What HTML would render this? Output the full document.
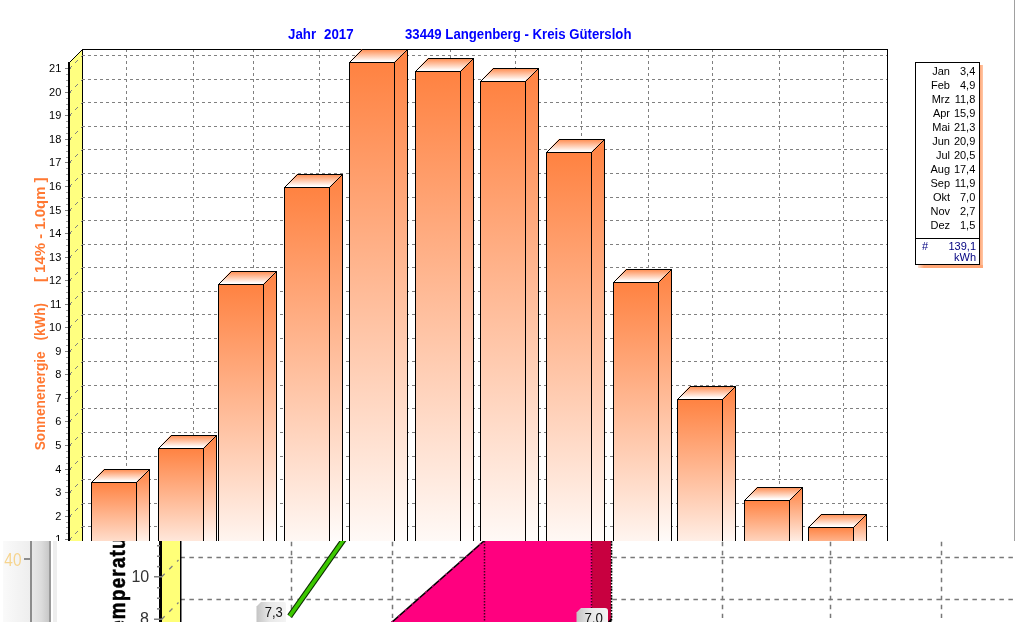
<!DOCTYPE html>
<html><head><meta charset="utf-8"><style>
html,body{margin:0;padding:0;background:#fff;}
body{width:1015px;height:622px;overflow:hidden;position:relative;font-family:"Liberation Sans",sans-serif;}
.t{position:absolute;white-space:pre;line-height:1;}
</style></head><body><div style="position:absolute;left:0;top:0;width:1015px;height:622px;will-change:transform">
<svg width="1015" height="622" viewBox="0 0 1015 622" style="position:absolute;left:0;top:0"><defs><linearGradient id="f0" gradientUnits="userSpaceOnUse" x1="0" y1="482" x2="0" y2="563"><stop offset="0" stop-color="#FF8241"/><stop offset="1" stop-color="#FFFFFF"/></linearGradient><linearGradient id="s0" gradientUnits="userSpaceOnUse" x1="0" y1="469" x2="0" y2="550"><stop offset="0" stop-color="#FF8241"/><stop offset="1" stop-color="#FFFFFF"/></linearGradient><linearGradient id="f1" gradientUnits="userSpaceOnUse" x1="0" y1="448" x2="0" y2="563"><stop offset="0" stop-color="#FF8241"/><stop offset="1" stop-color="#FFFFFF"/></linearGradient><linearGradient id="s1" gradientUnits="userSpaceOnUse" x1="0" y1="435" x2="0" y2="550"><stop offset="0" stop-color="#FF8241"/><stop offset="1" stop-color="#FFFFFF"/></linearGradient><linearGradient id="f2" gradientUnits="userSpaceOnUse" x1="0" y1="284" x2="0" y2="563"><stop offset="0" stop-color="#FF8241"/><stop offset="1" stop-color="#FFFFFF"/></linearGradient><linearGradient id="s2" gradientUnits="userSpaceOnUse" x1="0" y1="271" x2="0" y2="550"><stop offset="0" stop-color="#FF8241"/><stop offset="1" stop-color="#FFFFFF"/></linearGradient><linearGradient id="f3" gradientUnits="userSpaceOnUse" x1="0" y1="187" x2="0" y2="563"><stop offset="0" stop-color="#FF8241"/><stop offset="1" stop-color="#FFFFFF"/></linearGradient><linearGradient id="s3" gradientUnits="userSpaceOnUse" x1="0" y1="174" x2="0" y2="550"><stop offset="0" stop-color="#FF8241"/><stop offset="1" stop-color="#FFFFFF"/></linearGradient><linearGradient id="f4" gradientUnits="userSpaceOnUse" x1="0" y1="62" x2="0" y2="563"><stop offset="0" stop-color="#FF8241"/><stop offset="1" stop-color="#FFFFFF"/></linearGradient><linearGradient id="s4" gradientUnits="userSpaceOnUse" x1="0" y1="49" x2="0" y2="550"><stop offset="0" stop-color="#FF8241"/><stop offset="1" stop-color="#FFFFFF"/></linearGradient><linearGradient id="f5" gradientUnits="userSpaceOnUse" x1="0" y1="71" x2="0" y2="563"><stop offset="0" stop-color="#FF8241"/><stop offset="1" stop-color="#FFFFFF"/></linearGradient><linearGradient id="s5" gradientUnits="userSpaceOnUse" x1="0" y1="58" x2="0" y2="550"><stop offset="0" stop-color="#FF8241"/><stop offset="1" stop-color="#FFFFFF"/></linearGradient><linearGradient id="f6" gradientUnits="userSpaceOnUse" x1="0" y1="81" x2="0" y2="563"><stop offset="0" stop-color="#FF8241"/><stop offset="1" stop-color="#FFFFFF"/></linearGradient><linearGradient id="s6" gradientUnits="userSpaceOnUse" x1="0" y1="68" x2="0" y2="550"><stop offset="0" stop-color="#FF8241"/><stop offset="1" stop-color="#FFFFFF"/></linearGradient><linearGradient id="f7" gradientUnits="userSpaceOnUse" x1="0" y1="152" x2="0" y2="563"><stop offset="0" stop-color="#FF8241"/><stop offset="1" stop-color="#FFFFFF"/></linearGradient><linearGradient id="s7" gradientUnits="userSpaceOnUse" x1="0" y1="139" x2="0" y2="550"><stop offset="0" stop-color="#FF8241"/><stop offset="1" stop-color="#FFFFFF"/></linearGradient><linearGradient id="f8" gradientUnits="userSpaceOnUse" x1="0" y1="282" x2="0" y2="563"><stop offset="0" stop-color="#FF8241"/><stop offset="1" stop-color="#FFFFFF"/></linearGradient><linearGradient id="s8" gradientUnits="userSpaceOnUse" x1="0" y1="269" x2="0" y2="550"><stop offset="0" stop-color="#FF8241"/><stop offset="1" stop-color="#FFFFFF"/></linearGradient><linearGradient id="f9" gradientUnits="userSpaceOnUse" x1="0" y1="399" x2="0" y2="563"><stop offset="0" stop-color="#FF8241"/><stop offset="1" stop-color="#FFFFFF"/></linearGradient><linearGradient id="s9" gradientUnits="userSpaceOnUse" x1="0" y1="386" x2="0" y2="550"><stop offset="0" stop-color="#FF8241"/><stop offset="1" stop-color="#FFFFFF"/></linearGradient><linearGradient id="f10" gradientUnits="userSpaceOnUse" x1="0" y1="500" x2="0" y2="563"><stop offset="0" stop-color="#FF8241"/><stop offset="1" stop-color="#FFFFFF"/></linearGradient><linearGradient id="s10" gradientUnits="userSpaceOnUse" x1="0" y1="487" x2="0" y2="550"><stop offset="0" stop-color="#FF8241"/><stop offset="1" stop-color="#FFFFFF"/></linearGradient><linearGradient id="f11" gradientUnits="userSpaceOnUse" x1="0" y1="527" x2="0" y2="563"><stop offset="0" stop-color="#FF8241"/><stop offset="1" stop-color="#FFFFFF"/></linearGradient><linearGradient id="s11" gradientUnits="userSpaceOnUse" x1="0" y1="514" x2="0" y2="550"><stop offset="0" stop-color="#FF8241"/><stop offset="1" stop-color="#FFFFFF"/></linearGradient><linearGradient id="tp" x1="0" y1="0" x2="0" y2="1"><stop offset="0" stop-color="#FF884A"/><stop offset="0.93" stop-color="#FFFFFF"/><stop offset="1" stop-color="#FFFFFF"/></linearGradient></defs><line x1="126.5" y1="49" x2="126.5" y2="541" stroke="#808080" stroke-dasharray="3 3" shape-rendering="crispEdges"/><line x1="193.5" y1="49" x2="193.5" y2="541" stroke="#808080" stroke-dasharray="3 3" shape-rendering="crispEdges"/><line x1="253.5" y1="49" x2="253.5" y2="541" stroke="#808080" stroke-dasharray="3 3" shape-rendering="crispEdges"/><line x1="319.5" y1="49" x2="319.5" y2="541" stroke="#808080" stroke-dasharray="3 3" shape-rendering="crispEdges"/><line x1="384.5" y1="49" x2="384.5" y2="541" stroke="#808080" stroke-dasharray="3 3" shape-rendering="crispEdges"/><line x1="450.5" y1="49" x2="450.5" y2="541" stroke="#808080" stroke-dasharray="3 3" shape-rendering="crispEdges"/><line x1="515.5" y1="49" x2="515.5" y2="541" stroke="#808080" stroke-dasharray="3 3" shape-rendering="crispEdges"/><line x1="581.5" y1="49" x2="581.5" y2="541" stroke="#808080" stroke-dasharray="3 3" shape-rendering="crispEdges"/><line x1="648.5" y1="49" x2="648.5" y2="541" stroke="#808080" stroke-dasharray="3 3" shape-rendering="crispEdges"/><line x1="712.5" y1="49" x2="712.5" y2="541" stroke="#808080" stroke-dasharray="3 3" shape-rendering="crispEdges"/><line x1="779.5" y1="49" x2="779.5" y2="541" stroke="#808080" stroke-dasharray="3 3" shape-rendering="crispEdges"/><line x1="843.5" y1="49" x2="843.5" y2="541" stroke="#808080" stroke-dasharray="3 3" shape-rendering="crispEdges"/><line x1="82" y1="526.5" x2="887" y2="526.5" stroke="#808080" stroke-dasharray="3 3" shape-rendering="crispEdges"/><line x1="82" y1="503.5" x2="887" y2="503.5" stroke="#808080" stroke-dasharray="3 3" shape-rendering="crispEdges"/><line x1="82" y1="479.5" x2="887" y2="479.5" stroke="#808080" stroke-dasharray="3 3" shape-rendering="crispEdges"/><line x1="82" y1="456.5" x2="887" y2="456.5" stroke="#808080" stroke-dasharray="3 3" shape-rendering="crispEdges"/><line x1="82" y1="432.5" x2="887" y2="432.5" stroke="#808080" stroke-dasharray="3 3" shape-rendering="crispEdges"/><line x1="82" y1="408.5" x2="887" y2="408.5" stroke="#808080" stroke-dasharray="3 3" shape-rendering="crispEdges"/><line x1="82" y1="385.5" x2="887" y2="385.5" stroke="#808080" stroke-dasharray="3 3" shape-rendering="crispEdges"/><line x1="82" y1="361.5" x2="887" y2="361.5" stroke="#808080" stroke-dasharray="3 3" shape-rendering="crispEdges"/><line x1="82" y1="338.5" x2="887" y2="338.5" stroke="#808080" stroke-dasharray="3 3" shape-rendering="crispEdges"/><line x1="82" y1="314.5" x2="887" y2="314.5" stroke="#808080" stroke-dasharray="3 3" shape-rendering="crispEdges"/><line x1="82" y1="291.5" x2="887" y2="291.5" stroke="#808080" stroke-dasharray="3 3" shape-rendering="crispEdges"/><line x1="82" y1="267.5" x2="887" y2="267.5" stroke="#808080" stroke-dasharray="3 3" shape-rendering="crispEdges"/><line x1="82" y1="244.5" x2="887" y2="244.5" stroke="#808080" stroke-dasharray="3 3" shape-rendering="crispEdges"/><line x1="82" y1="220.5" x2="887" y2="220.5" stroke="#808080" stroke-dasharray="3 3" shape-rendering="crispEdges"/><line x1="82" y1="197.5" x2="887" y2="197.5" stroke="#808080" stroke-dasharray="3 3" shape-rendering="crispEdges"/><line x1="82" y1="173.5" x2="887" y2="173.5" stroke="#808080" stroke-dasharray="3 3" shape-rendering="crispEdges"/><line x1="82" y1="149.5" x2="887" y2="149.5" stroke="#808080" stroke-dasharray="3 3" shape-rendering="crispEdges"/><line x1="82" y1="126.5" x2="887" y2="126.5" stroke="#808080" stroke-dasharray="3 3" shape-rendering="crispEdges"/><line x1="82" y1="102.5" x2="887" y2="102.5" stroke="#808080" stroke-dasharray="3 3" shape-rendering="crispEdges"/><line x1="82" y1="79.5" x2="887" y2="79.5" stroke="#808080" stroke-dasharray="3 3" shape-rendering="crispEdges"/><line x1="82" y1="55.5" x2="887" y2="55.5" stroke="#808080" stroke-dasharray="3 3" shape-rendering="crispEdges"/><rect x="82" y="49" width="806" height="1" fill="#000"/><rect x="82" y="49" width="1" height="492" fill="#000"/><rect x="887" y="49" width="1" height="492" fill="#000"/><polygon points="70,62 82,50 82,541 70,541" fill="#FFFF80"/><line x1="69.5" y1="62.5" x2="82.5" y2="49.5" stroke="#000" shape-rendering="crispEdges"/><line x1="69.5" y1="539.5" x2="82.5" y2="526.5" stroke="#808080" stroke-dasharray="3.5 4.5" shape-rendering="crispEdges"/><line x1="69.5" y1="516.5" x2="82.5" y2="503.5" stroke="#808080" stroke-dasharray="3.5 4.5" shape-rendering="crispEdges"/><line x1="69.5" y1="492.5" x2="82.5" y2="479.5" stroke="#808080" stroke-dasharray="3.5 4.5" shape-rendering="crispEdges"/><line x1="69.5" y1="469.5" x2="82.5" y2="456.5" stroke="#808080" stroke-dasharray="3.5 4.5" shape-rendering="crispEdges"/><line x1="69.5" y1="445.5" x2="82.5" y2="432.5" stroke="#808080" stroke-dasharray="3.5 4.5" shape-rendering="crispEdges"/><line x1="69.5" y1="421.5" x2="82.5" y2="408.5" stroke="#808080" stroke-dasharray="3.5 4.5" shape-rendering="crispEdges"/><line x1="69.5" y1="398.5" x2="82.5" y2="385.5" stroke="#808080" stroke-dasharray="3.5 4.5" shape-rendering="crispEdges"/><line x1="69.5" y1="374.5" x2="82.5" y2="361.5" stroke="#808080" stroke-dasharray="3.5 4.5" shape-rendering="crispEdges"/><line x1="69.5" y1="351.5" x2="82.5" y2="338.5" stroke="#808080" stroke-dasharray="3.5 4.5" shape-rendering="crispEdges"/><line x1="69.5" y1="327.5" x2="82.5" y2="314.5" stroke="#808080" stroke-dasharray="3.5 4.5" shape-rendering="crispEdges"/><line x1="69.5" y1="304.5" x2="82.5" y2="291.5" stroke="#808080" stroke-dasharray="3.5 4.5" shape-rendering="crispEdges"/><line x1="69.5" y1="280.5" x2="82.5" y2="267.5" stroke="#808080" stroke-dasharray="3.5 4.5" shape-rendering="crispEdges"/><line x1="69.5" y1="257.5" x2="82.5" y2="244.5" stroke="#808080" stroke-dasharray="3.5 4.5" shape-rendering="crispEdges"/><line x1="69.5" y1="233.5" x2="82.5" y2="220.5" stroke="#808080" stroke-dasharray="3.5 4.5" shape-rendering="crispEdges"/><line x1="69.5" y1="210.5" x2="82.5" y2="197.5" stroke="#808080" stroke-dasharray="3.5 4.5" shape-rendering="crispEdges"/><line x1="69.5" y1="186.5" x2="82.5" y2="173.5" stroke="#808080" stroke-dasharray="3.5 4.5" shape-rendering="crispEdges"/><line x1="69.5" y1="162.5" x2="82.5" y2="149.5" stroke="#808080" stroke-dasharray="3.5 4.5" shape-rendering="crispEdges"/><line x1="69.5" y1="139.5" x2="82.5" y2="126.5" stroke="#808080" stroke-dasharray="3.5 4.5" shape-rendering="crispEdges"/><line x1="69.5" y1="115.5" x2="82.5" y2="102.5" stroke="#808080" stroke-dasharray="3.5 4.5" shape-rendering="crispEdges"/><line x1="69.5" y1="92.5" x2="82.5" y2="79.5" stroke="#808080" stroke-dasharray="3.5 4.5" shape-rendering="crispEdges"/><line x1="69.5" y1="68.5" x2="82.5" y2="55.5" stroke="#808080" stroke-dasharray="3.5 4.5" shape-rendering="crispEdges"/><rect x="65" y="539" width="6" height="1" fill="#808080"/><rect x="65" y="516" width="6" height="1" fill="#808080"/><rect x="66" y="522" width="2" height="1" fill="#A0A0A0"/><rect x="66" y="527" width="2" height="1" fill="#A0A0A0"/><rect x="66" y="533" width="2" height="1" fill="#A0A0A0"/><rect x="65" y="492" width="6" height="1" fill="#808080"/><rect x="66" y="498" width="2" height="1" fill="#A0A0A0"/><rect x="66" y="504" width="2" height="1" fill="#A0A0A0"/><rect x="66" y="510" width="2" height="1" fill="#A0A0A0"/><rect x="65" y="469" width="6" height="1" fill="#808080"/><rect x="66" y="474" width="2" height="1" fill="#A0A0A0"/><rect x="66" y="480" width="2" height="1" fill="#A0A0A0"/><rect x="66" y="486" width="2" height="1" fill="#A0A0A0"/><rect x="65" y="445" width="6" height="1" fill="#808080"/><rect x="66" y="451" width="2" height="1" fill="#A0A0A0"/><rect x="66" y="457" width="2" height="1" fill="#A0A0A0"/><rect x="66" y="463" width="2" height="1" fill="#A0A0A0"/><rect x="65" y="421" width="6" height="1" fill="#808080"/><rect x="66" y="427" width="2" height="1" fill="#A0A0A0"/><rect x="66" y="433" width="2" height="1" fill="#A0A0A0"/><rect x="66" y="439" width="2" height="1" fill="#A0A0A0"/><rect x="65" y="398" width="6" height="1" fill="#808080"/><rect x="66" y="404" width="2" height="1" fill="#A0A0A0"/><rect x="66" y="410" width="2" height="1" fill="#A0A0A0"/><rect x="66" y="416" width="2" height="1" fill="#A0A0A0"/><rect x="65" y="374" width="6" height="1" fill="#808080"/><rect x="66" y="380" width="2" height="1" fill="#A0A0A0"/><rect x="66" y="386" width="2" height="1" fill="#A0A0A0"/><rect x="66" y="392" width="2" height="1" fill="#A0A0A0"/><rect x="65" y="351" width="6" height="1" fill="#808080"/><rect x="66" y="357" width="2" height="1" fill="#A0A0A0"/><rect x="66" y="363" width="2" height="1" fill="#A0A0A0"/><rect x="66" y="369" width="2" height="1" fill="#A0A0A0"/><rect x="65" y="327" width="6" height="1" fill="#808080"/><rect x="66" y="333" width="2" height="1" fill="#A0A0A0"/><rect x="66" y="339" width="2" height="1" fill="#A0A0A0"/><rect x="66" y="345" width="2" height="1" fill="#A0A0A0"/><rect x="65" y="304" width="6" height="1" fill="#808080"/><rect x="66" y="310" width="2" height="1" fill="#A0A0A0"/><rect x="66" y="316" width="2" height="1" fill="#A0A0A0"/><rect x="66" y="321" width="2" height="1" fill="#A0A0A0"/><rect x="65" y="280" width="6" height="1" fill="#808080"/><rect x="66" y="286" width="2" height="1" fill="#A0A0A0"/><rect x="66" y="292" width="2" height="1" fill="#A0A0A0"/><rect x="66" y="298" width="2" height="1" fill="#A0A0A0"/><rect x="65" y="257" width="6" height="1" fill="#808080"/><rect x="66" y="263" width="2" height="1" fill="#A0A0A0"/><rect x="66" y="268" width="2" height="1" fill="#A0A0A0"/><rect x="66" y="274" width="2" height="1" fill="#A0A0A0"/><rect x="65" y="233" width="6" height="1" fill="#808080"/><rect x="66" y="239" width="2" height="1" fill="#A0A0A0"/><rect x="66" y="245" width="2" height="1" fill="#A0A0A0"/><rect x="66" y="251" width="2" height="1" fill="#A0A0A0"/><rect x="65" y="210" width="6" height="1" fill="#808080"/><rect x="66" y="215" width="2" height="1" fill="#A0A0A0"/><rect x="66" y="221" width="2" height="1" fill="#A0A0A0"/><rect x="66" y="227" width="2" height="1" fill="#A0A0A0"/><rect x="65" y="186" width="6" height="1" fill="#808080"/><rect x="66" y="192" width="2" height="1" fill="#A0A0A0"/><rect x="66" y="198" width="2" height="1" fill="#A0A0A0"/><rect x="66" y="204" width="2" height="1" fill="#A0A0A0"/><rect x="65" y="162" width="6" height="1" fill="#808080"/><rect x="66" y="168" width="2" height="1" fill="#A0A0A0"/><rect x="66" y="174" width="2" height="1" fill="#A0A0A0"/><rect x="66" y="180" width="2" height="1" fill="#A0A0A0"/><rect x="65" y="139" width="6" height="1" fill="#808080"/><rect x="66" y="145" width="2" height="1" fill="#A0A0A0"/><rect x="66" y="151" width="2" height="1" fill="#A0A0A0"/><rect x="66" y="157" width="2" height="1" fill="#A0A0A0"/><rect x="65" y="115" width="6" height="1" fill="#808080"/><rect x="66" y="121" width="2" height="1" fill="#A0A0A0"/><rect x="66" y="127" width="2" height="1" fill="#A0A0A0"/><rect x="66" y="133" width="2" height="1" fill="#A0A0A0"/><rect x="65" y="92" width="6" height="1" fill="#808080"/><rect x="66" y="98" width="2" height="1" fill="#A0A0A0"/><rect x="66" y="104" width="2" height="1" fill="#A0A0A0"/><rect x="66" y="109" width="2" height="1" fill="#A0A0A0"/><rect x="65" y="68" width="6" height="1" fill="#808080"/><rect x="66" y="74" width="2" height="1" fill="#A0A0A0"/><rect x="66" y="80" width="2" height="1" fill="#A0A0A0"/><rect x="66" y="86" width="2" height="1" fill="#A0A0A0"/><rect x="68" y="62" width="2" height="479" fill="#000"/><rect x="91" y="482" width="46" height="81" fill="url(#f0)"/><polygon points="136,482 149,469 149,550 136,563" fill="url(#s0)"/><polygon points="91,482 104,469 149,469 136,482" fill="url(#tp)"/><rect x="91" y="482" width="46" height="1" fill="#000"/><rect x="91" y="482" width="1" height="81" fill="#000"/><rect x="136" y="482" width="1" height="81" fill="#000"/><rect x="104" y="469" width="46" height="1" fill="#000"/><rect x="149" y="469" width="1" height="81" fill="#000"/><line x1="91.5" y1="482.5" x2="104.5" y2="469.5" stroke="#000" shape-rendering="crispEdges"/><line x1="136.5" y1="482.5" x2="149.5" y2="469.5" stroke="#000" shape-rendering="crispEdges"/><rect x="158" y="448" width="46" height="115" fill="url(#f1)"/><polygon points="203,448 216,435 216,550 203,563" fill="url(#s1)"/><polygon points="158,448 171,435 216,435 203,448" fill="url(#tp)"/><rect x="158" y="448" width="46" height="1" fill="#000"/><rect x="158" y="448" width="1" height="115" fill="#000"/><rect x="203" y="448" width="1" height="115" fill="#000"/><rect x="171" y="435" width="46" height="1" fill="#000"/><rect x="216" y="435" width="1" height="115" fill="#000"/><line x1="158.5" y1="448.5" x2="171.5" y2="435.5" stroke="#000" shape-rendering="crispEdges"/><line x1="203.5" y1="448.5" x2="216.5" y2="435.5" stroke="#000" shape-rendering="crispEdges"/><rect x="218" y="284" width="46" height="279" fill="url(#f2)"/><polygon points="263,284 276,271 276,550 263,563" fill="url(#s2)"/><polygon points="218,284 231,271 276,271 263,284" fill="url(#tp)"/><rect x="218" y="284" width="46" height="1" fill="#000"/><rect x="218" y="284" width="1" height="279" fill="#000"/><rect x="263" y="284" width="1" height="279" fill="#000"/><rect x="231" y="271" width="46" height="1" fill="#000"/><rect x="276" y="271" width="1" height="279" fill="#000"/><line x1="218.5" y1="284.5" x2="231.5" y2="271.5" stroke="#000" shape-rendering="crispEdges"/><line x1="263.5" y1="284.5" x2="276.5" y2="271.5" stroke="#000" shape-rendering="crispEdges"/><rect x="284" y="187" width="46" height="376" fill="url(#f3)"/><polygon points="329,187 342,174 342,550 329,563" fill="url(#s3)"/><polygon points="284,187 297,174 342,174 329,187" fill="url(#tp)"/><rect x="284" y="187" width="46" height="1" fill="#000"/><rect x="284" y="187" width="1" height="376" fill="#000"/><rect x="329" y="187" width="1" height="376" fill="#000"/><rect x="297" y="174" width="46" height="1" fill="#000"/><rect x="342" y="174" width="1" height="376" fill="#000"/><line x1="284.5" y1="187.5" x2="297.5" y2="174.5" stroke="#000" shape-rendering="crispEdges"/><line x1="329.5" y1="187.5" x2="342.5" y2="174.5" stroke="#000" shape-rendering="crispEdges"/><rect x="349" y="62" width="46" height="501" fill="url(#f4)"/><polygon points="394,62 407,49 407,550 394,563" fill="url(#s4)"/><polygon points="349,62 362,49 407,49 394,62" fill="url(#tp)"/><rect x="349" y="62" width="46" height="1" fill="#000"/><rect x="349" y="62" width="1" height="501" fill="#000"/><rect x="394" y="62" width="1" height="501" fill="#000"/><rect x="362" y="49" width="46" height="1" fill="#000"/><rect x="407" y="49" width="1" height="501" fill="#000"/><line x1="349.5" y1="62.5" x2="362.5" y2="49.5" stroke="#000" shape-rendering="crispEdges"/><line x1="394.5" y1="62.5" x2="407.5" y2="49.5" stroke="#000" shape-rendering="crispEdges"/><rect x="415" y="71" width="46" height="492" fill="url(#f5)"/><polygon points="460,71 473,58 473,550 460,563" fill="url(#s5)"/><polygon points="415,71 428,58 473,58 460,71" fill="url(#tp)"/><rect x="415" y="71" width="46" height="1" fill="#000"/><rect x="415" y="71" width="1" height="492" fill="#000"/><rect x="460" y="71" width="1" height="492" fill="#000"/><rect x="428" y="58" width="46" height="1" fill="#000"/><rect x="473" y="58" width="1" height="492" fill="#000"/><line x1="415.5" y1="71.5" x2="428.5" y2="58.5" stroke="#000" shape-rendering="crispEdges"/><line x1="460.5" y1="71.5" x2="473.5" y2="58.5" stroke="#000" shape-rendering="crispEdges"/><rect x="480" y="81" width="46" height="482" fill="url(#f6)"/><polygon points="525,81 538,68 538,550 525,563" fill="url(#s6)"/><polygon points="480,81 493,68 538,68 525,81" fill="url(#tp)"/><rect x="480" y="81" width="46" height="1" fill="#000"/><rect x="480" y="81" width="1" height="482" fill="#000"/><rect x="525" y="81" width="1" height="482" fill="#000"/><rect x="493" y="68" width="46" height="1" fill="#000"/><rect x="538" y="68" width="1" height="482" fill="#000"/><line x1="480.5" y1="81.5" x2="493.5" y2="68.5" stroke="#000" shape-rendering="crispEdges"/><line x1="525.5" y1="81.5" x2="538.5" y2="68.5" stroke="#000" shape-rendering="crispEdges"/><rect x="546" y="152" width="46" height="411" fill="url(#f7)"/><polygon points="591,152 604,139 604,550 591,563" fill="url(#s7)"/><polygon points="546,152 559,139 604,139 591,152" fill="url(#tp)"/><rect x="546" y="152" width="46" height="1" fill="#000"/><rect x="546" y="152" width="1" height="411" fill="#000"/><rect x="591" y="152" width="1" height="411" fill="#000"/><rect x="559" y="139" width="46" height="1" fill="#000"/><rect x="604" y="139" width="1" height="411" fill="#000"/><line x1="546.5" y1="152.5" x2="559.5" y2="139.5" stroke="#000" shape-rendering="crispEdges"/><line x1="591.5" y1="152.5" x2="604.5" y2="139.5" stroke="#000" shape-rendering="crispEdges"/><rect x="613" y="282" width="46" height="281" fill="url(#f8)"/><polygon points="658,282 671,269 671,550 658,563" fill="url(#s8)"/><polygon points="613,282 626,269 671,269 658,282" fill="url(#tp)"/><rect x="613" y="282" width="46" height="1" fill="#000"/><rect x="613" y="282" width="1" height="281" fill="#000"/><rect x="658" y="282" width="1" height="281" fill="#000"/><rect x="626" y="269" width="46" height="1" fill="#000"/><rect x="671" y="269" width="1" height="281" fill="#000"/><line x1="613.5" y1="282.5" x2="626.5" y2="269.5" stroke="#000" shape-rendering="crispEdges"/><line x1="658.5" y1="282.5" x2="671.5" y2="269.5" stroke="#000" shape-rendering="crispEdges"/><rect x="677" y="399" width="46" height="164" fill="url(#f9)"/><polygon points="722,399 735,386 735,550 722,563" fill="url(#s9)"/><polygon points="677,399 690,386 735,386 722,399" fill="url(#tp)"/><rect x="677" y="399" width="46" height="1" fill="#000"/><rect x="677" y="399" width="1" height="164" fill="#000"/><rect x="722" y="399" width="1" height="164" fill="#000"/><rect x="690" y="386" width="46" height="1" fill="#000"/><rect x="735" y="386" width="1" height="164" fill="#000"/><line x1="677.5" y1="399.5" x2="690.5" y2="386.5" stroke="#000" shape-rendering="crispEdges"/><line x1="722.5" y1="399.5" x2="735.5" y2="386.5" stroke="#000" shape-rendering="crispEdges"/><rect x="744" y="500" width="46" height="63" fill="url(#f10)"/><polygon points="789,500 802,487 802,550 789,563" fill="url(#s10)"/><polygon points="744,500 757,487 802,487 789,500" fill="url(#tp)"/><rect x="744" y="500" width="46" height="1" fill="#000"/><rect x="744" y="500" width="1" height="63" fill="#000"/><rect x="789" y="500" width="1" height="63" fill="#000"/><rect x="757" y="487" width="46" height="1" fill="#000"/><rect x="802" y="487" width="1" height="63" fill="#000"/><line x1="744.5" y1="500.5" x2="757.5" y2="487.5" stroke="#000" shape-rendering="crispEdges"/><line x1="789.5" y1="500.5" x2="802.5" y2="487.5" stroke="#000" shape-rendering="crispEdges"/><rect x="808" y="527" width="46" height="36" fill="url(#f11)"/><polygon points="853,527 866,514 866,550 853,563" fill="url(#s11)"/><polygon points="808,527 821,514 866,514 853,527" fill="url(#tp)"/><rect x="808" y="527" width="46" height="1" fill="#000"/><rect x="808" y="527" width="1" height="36" fill="#000"/><rect x="853" y="527" width="1" height="36" fill="#000"/><rect x="821" y="514" width="46" height="1" fill="#000"/><rect x="866" y="514" width="1" height="36" fill="#000"/><line x1="808.5" y1="527.5" x2="821.5" y2="514.5" stroke="#000" shape-rendering="crispEdges"/><line x1="853.5" y1="527.5" x2="866.5" y2="514.5" stroke="#000" shape-rendering="crispEdges"/><text x="61.3" y="543" text-anchor="end" font-family="Liberation Sans" font-size="11" fill="#000">1</text><text x="61.3" y="520" text-anchor="end" font-family="Liberation Sans" font-size="11" fill="#000">2</text><text x="61.3" y="496" text-anchor="end" font-family="Liberation Sans" font-size="11" fill="#000">3</text><text x="61.3" y="473" text-anchor="end" font-family="Liberation Sans" font-size="11" fill="#000">4</text><text x="61.3" y="449" text-anchor="end" font-family="Liberation Sans" font-size="11" fill="#000">5</text><text x="61.3" y="425" text-anchor="end" font-family="Liberation Sans" font-size="11" fill="#000">6</text><text x="61.3" y="402" text-anchor="end" font-family="Liberation Sans" font-size="11" fill="#000">7</text><text x="61.3" y="378" text-anchor="end" font-family="Liberation Sans" font-size="11" fill="#000">8</text><text x="61.3" y="355" text-anchor="end" font-family="Liberation Sans" font-size="11" fill="#000">9</text><text x="61.3" y="331" text-anchor="end" font-family="Liberation Sans" font-size="11" fill="#000">10</text><text x="61.3" y="308" text-anchor="end" font-family="Liberation Sans" font-size="11" fill="#000">11</text><text x="61.3" y="284" text-anchor="end" font-family="Liberation Sans" font-size="11" fill="#000">12</text><text x="61.3" y="261" text-anchor="end" font-family="Liberation Sans" font-size="11" fill="#000">13</text><text x="61.3" y="237" text-anchor="end" font-family="Liberation Sans" font-size="11" fill="#000">14</text><text x="61.3" y="214" text-anchor="end" font-family="Liberation Sans" font-size="11" fill="#000">15</text><text x="61.3" y="190" text-anchor="end" font-family="Liberation Sans" font-size="11" fill="#000">16</text><text x="61.3" y="166" text-anchor="end" font-family="Liberation Sans" font-size="11" fill="#000">17</text><text x="61.3" y="143" text-anchor="end" font-family="Liberation Sans" font-size="11" fill="#000">18</text><text x="61.3" y="119" text-anchor="end" font-family="Liberation Sans" font-size="11" fill="#000">19</text><text x="61.3" y="96" text-anchor="end" font-family="Liberation Sans" font-size="11" fill="#000">20</text><text x="61.3" y="72" text-anchor="end" font-family="Liberation Sans" font-size="11" fill="#000">21</text><svg x="0" y="541" width="1015" height="81" viewBox="0 541 1015 81" overflow="hidden"><rect x="0" y="541" width="1015" height="81" fill="#FFFFFF"/><linearGradient id="lg1" x1="0" y1="0" x2="1" y2="0"><stop offset="0" stop-color="#FAFAFA"/><stop offset="1" stop-color="#EEEEEE"/></linearGradient><linearGradient id="lg2" x1="0" y1="0" x2="1" y2="0"><stop offset="0" stop-color="#E8E8E8"/><stop offset="0.55" stop-color="#DCDCDC"/><stop offset="1" stop-color="#C8C8C8"/></linearGradient><rect x="3" y="541" width="27" height="81" fill="url(#lg1)"/><rect x="30" y="541" width="2" height="81" fill="#8C8C8C"/><rect x="32" y="541" width="17" height="81" fill="url(#lg2)"/><rect x="49" y="541" width="2" height="81" fill="#999999"/><rect x="53" y="541" width="4" height="81" fill="#EEEEEE"/><rect x="24" y="558" width="6" height="2" fill="#8C8C8C"/><text x="4.3" y="565.7" font-family="Liberation Sans" font-size="19" fill="#F6D48E" textLength="17.2" lengthAdjust="spacingAndGlyphs">40</text><line x1="291.5" y1="541.8" x2="291.5" y2="618" stroke="#787878" stroke-width="1.5" stroke-dasharray="4.5 4.5"/><line x1="392.5" y1="541.8" x2="392.5" y2="618" stroke="#787878" stroke-width="1.5" stroke-dasharray="4.5 4.5"/><line x1="503.5" y1="541.8" x2="503.5" y2="618" stroke="#787878" stroke-width="1.5" stroke-dasharray="4.5 4.5"/><line x1="611.5" y1="541.8" x2="611.5" y2="618" stroke="#787878" stroke-width="1.5" stroke-dasharray="4.5 4.5"/><line x1="722.5" y1="541.8" x2="722.5" y2="618" stroke="#787878" stroke-width="1.5" stroke-dasharray="4.5 4.5"/><line x1="830.5" y1="541.8" x2="830.5" y2="618" stroke="#787878" stroke-width="1.5" stroke-dasharray="4.5 4.5"/><line x1="941.5" y1="541.8" x2="941.5" y2="618" stroke="#787878" stroke-width="1.5" stroke-dasharray="4.5 4.5"/><line x1="180.4" y1="557.5" x2="1015" y2="557.5" stroke="#787878" stroke-width="1.5" stroke-dasharray="4.5 4.5"/><line x1="180.4" y1="599.5" x2="1015" y2="599.5" stroke="#787878" stroke-width="1.5" stroke-dasharray="4.5 4.5"/><rect x="162" y="541" width="18" height="81" fill="#FFFF78"/><rect x="159" y="541" width="3" height="81" fill="#000"/><rect x="180" y="541" width="1.5" height="81" fill="#000"/><line x1="161.5" y1="577.0" x2="178.5" y2="560.0" stroke="#808080" stroke-width="1.3" stroke-dasharray="4.5 6.5"/><rect x="154" y="576.0" width="8" height="1.5" fill="#808080"/><line x1="161.5" y1="619.5" x2="178.5" y2="602.5" stroke="#808080" stroke-width="1.3" stroke-dasharray="4.5 6.5"/><rect x="154" y="618.5" width="8" height="1.5" fill="#808080"/><rect x="157" y="545.0" width="3" height="1.5" fill="#808080"/><rect x="157" y="555.5" width="3" height="1.5" fill="#808080"/><rect x="157" y="565.9" width="3" height="1.5" fill="#808080"/><rect x="157" y="587.0" width="3" height="1.5" fill="#808080"/><rect x="157" y="597.5" width="3" height="1.5" fill="#808080"/><rect x="157" y="608.1" width="3" height="1.5" fill="#808080"/><text x="149.2" y="582.4" text-anchor="end" font-family="Liberation Sans" font-size="16" fill="#333">10</text><text x="148.8" y="623.7" text-anchor="end" font-family="Liberation Sans" font-size="16" fill="#333">8</text><text transform="translate(125 642.2) rotate(-90) scale(0.86 1)" font-family="Liberation Sans" font-weight="bold" font-size="22" letter-spacing="1.4" fill="#000" stroke="#000" stroke-width="0.5">Temperatur</text><polygon points="392,622 484,541 611,541 611,622" fill="#FF007F"/><rect x="592" y="541" width="19" height="81" fill="#C80040"/><line x1="391.5" y1="622.5" x2="484.5" y2="540.5" stroke="#000" stroke-width="1.6"/><line x1="391.5" y1="622.5" x2="484.5" y2="540.5" stroke="#B0006A" stroke-width="1.6" stroke-dasharray="2 7"/><line x1="484.5" y1="541" x2="484.5" y2="622" stroke="#400020" stroke-width="1.5" stroke-dasharray="1.5 1.5"/><line x1="591.5" y1="541" x2="591.5" y2="622" stroke="#400020" stroke-width="1.5" stroke-dasharray="1.5 1.5"/><line x1="611.5" y1="541" x2="611.5" y2="622" stroke="#000" stroke-width="1.5" stroke-dasharray="1.5 1.5"/><line x1="289.7" y1="616.1" x2="350.5" y2="530" stroke="#0A2A00" stroke-width="5.8"/><line x1="289.7" y1="616.1" x2="350.5" y2="530" stroke="#3CC800" stroke-width="3.6"/><linearGradient id="lb" x1="0" y1="0" x2="1" y2="0"><stop offset="0" stop-color="#C4C4C4"/><stop offset="0.45" stop-color="#E8E8E8"/><stop offset="1" stop-color="#F4F4F4"/></linearGradient><path d="M261,602 H284 Q286,602 286,604 V622 H256.5 V606.5 Z" fill="url(#lb)"/><text x="264.8" y="616.8" font-family="Liberation Sans" font-size="15" fill="#111" textLength="18" lengthAdjust="spacingAndGlyphs">7,3</text><path d="M581,608 H605 Q608,608 608,611 V622 H576.5 V612.5 Z" fill="url(#lb)"/><text x="584.4" y="623.2" font-family="Liberation Sans" font-size="15" fill="#111" textLength="18.5" lengthAdjust="spacingAndGlyphs">7,0</text><polygon points="608,622 611.5,617.5 611.5,622" fill="#000"/></svg><rect x="1014" y="0" width="1" height="541" fill="#A0A0A0"/></svg>
<div class="t" style="left:288px;top:27px;font-size:14px;font-weight:bold;color:#0000FF;transform-origin:0 0;transform:scaleX(0.95)">Jahr</div>
<div class="t" style="left:324px;top:27px;font-size:14px;font-weight:bold;color:#0000FF;transform-origin:0 0;transform:scaleX(0.95)">2017</div>
<div class="t" style="left:404.7px;top:27px;font-size:14px;font-weight:bold;color:#0000FF;transform-origin:0 0;transform:scaleX(0.942)">33449 Langenberg - Kreis Gütersloh</div>
<div style="position:absolute;left:980px;top:65px;width:3px;height:203px;background:linear-gradient(to right,#FFA878,#FFC8A8);"></div><div style="position:absolute;left:918px;top:265px;width:65px;height:3px;background:linear-gradient(to right,#FFE0D0,#FFA676 6px,#FFA676)"></div><div style="position:absolute;left:915px;top:62px;width:63px;height:201px;border:1px solid #000;background:#fff"></div><div class="t" style="left:900px;width:50px;text-align:right;top:66px;font-size:11px">Jan</div><div class="t" style="left:939.3px;width:36px;text-align:right;top:66px;font-size:11px">3,4</div><div class="t" style="left:900px;width:50px;text-align:right;top:80px;font-size:11px">Feb</div><div class="t" style="left:939.3px;width:36px;text-align:right;top:80px;font-size:11px">4,9</div><div class="t" style="left:900px;width:50px;text-align:right;top:94px;font-size:11px">Mrz</div><div class="t" style="left:939.3px;width:36px;text-align:right;top:94px;font-size:11px">11,8</div><div class="t" style="left:900px;width:50px;text-align:right;top:108px;font-size:11px">Apr</div><div class="t" style="left:939.3px;width:36px;text-align:right;top:108px;font-size:11px">15,9</div><div class="t" style="left:900px;width:50px;text-align:right;top:122px;font-size:11px">Mai</div><div class="t" style="left:939.3px;width:36px;text-align:right;top:122px;font-size:11px">21,3</div><div class="t" style="left:900px;width:50px;text-align:right;top:136px;font-size:11px">Jun</div><div class="t" style="left:939.3px;width:36px;text-align:right;top:136px;font-size:11px">20,9</div><div class="t" style="left:900px;width:50px;text-align:right;top:150px;font-size:11px">Jul</div><div class="t" style="left:939.3px;width:36px;text-align:right;top:150px;font-size:11px">20,5</div><div class="t" style="left:900px;width:50px;text-align:right;top:164px;font-size:11px">Aug</div><div class="t" style="left:939.3px;width:36px;text-align:right;top:164px;font-size:11px">17,4</div><div class="t" style="left:900px;width:50px;text-align:right;top:178px;font-size:11px">Sep</div><div class="t" style="left:939.3px;width:36px;text-align:right;top:178px;font-size:11px">11,9</div><div class="t" style="left:900px;width:50px;text-align:right;top:192px;font-size:11px">Okt</div><div class="t" style="left:939.3px;width:36px;text-align:right;top:192px;font-size:11px">7,0</div><div class="t" style="left:900px;width:50px;text-align:right;top:206px;font-size:11px">Nov</div><div class="t" style="left:939.3px;width:36px;text-align:right;top:206px;font-size:11px">2,7</div><div class="t" style="left:900px;width:50px;text-align:right;top:220px;font-size:11px">Dez</div><div class="t" style="left:939.3px;width:36px;text-align:right;top:220px;font-size:11px">1,5</div><div style="position:absolute;left:916px;top:238px;width:63px;height:1px;background:#000"></div><div class="t" style="left:922px;top:241px;font-size:11px;color:#000080">#</div><div class="t" style="left:930px;width:46px;text-align:right;top:241px;font-size:11px;color:#000080">139,1</div><div class="t" style="left:930px;width:46px;text-align:right;top:252px;font-size:11px;color:#000080">kWh</div><svg width="60" height="622" style="position:absolute;left:0;top:0"><text transform="translate(44.6 450.3) rotate(-90)" font-family="Liberation Sans" font-size="15" font-weight="bold" fill="#FF7832" textLength="99.0" lengthAdjust="spacingAndGlyphs">Sonnenenergie</text><text transform="translate(44.6 340.5) rotate(-90)" font-family="Liberation Sans" font-size="15" font-weight="bold" fill="#FF7832" textLength="37.6" lengthAdjust="spacingAndGlyphs">(kWh)</text><text transform="translate(44.6 282.0) rotate(-90)" font-family="Liberation Sans" font-size="15" font-weight="bold" fill="#FF7832" textLength="104.6" lengthAdjust="spacingAndGlyphs">[ 14% - 1.0qm ]</text></svg></div></body></html>
